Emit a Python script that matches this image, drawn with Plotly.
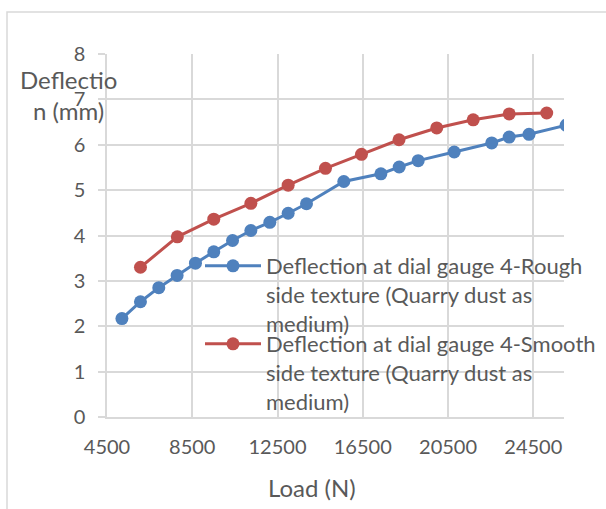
import plotly.graph_objects as go

# Data
rough_load = [5200, 6070, 6930, 7790, 8650, 9510, 10390, 11250, 12140, 13000, 13860,
              15610, 17350, 18210, 19100, 20790, 22550, 23370, 24300, 26040]
rough_defl = [2.17, 2.54, 2.85, 3.12, 3.39, 3.64, 3.89, 4.11, 4.29, 4.49, 4.70,
              5.19, 5.36, 5.51, 5.65, 5.84, 6.04, 6.17, 6.23, 6.43]
smooth_load = [6070, 7800, 9510, 11250, 13000, 14750, 16440, 18200, 19970, 21680, 23370, 25130]
smooth_defl = [3.30, 3.97, 4.36, 4.71, 5.11, 5.48, 5.79, 6.11, 6.37, 6.55, 6.68, 6.70]

x_ticks = [4500, 8500, 12500, 16500, 20500, 24500]
y_ticks = [0, 1, 2, 3, 4, 5, 6, 7, 8]

rough_name = "Deflection at dial gauge 4-Rough<br>side texture (Quarry dust as<br>medium)"
smooth_name = "Deflection at dial gauge 4-Smooth<br>side texture (Quarry dust as<br>medium)"

W, H = 606, 509
L, R, T, B = 107, 564, 54, 417
FONT = "Lato"
GRAY = "#595959"
GRID = "#d9d9d9"


def px(x):
    return (x - L) / (R - L)


def py(y):
    return (B - y) / (B - T)


fig = go.Figure()
fig.add_trace(go.Scatter(x=rough_load, y=rough_defl, mode="lines+markers", name=rough_name,
                         line=dict(color="#4f81bd", width=3),
                         marker=dict(color="#4f81bd", size=13), legend="legend"))
fig.add_trace(go.Scatter(x=smooth_load, y=smooth_defl, mode="lines+markers", name=smooth_name,
                         line=dict(color="#c0504d", width=3),
                         marker=dict(color="#c0504d", size=13), legend="legend2"))

leg_common = dict(xanchor="left", yanchor="top", bgcolor="rgba(0,0,0,0)",
                  font=dict(size=22, color=GRAY), valign="top", itemwidth=56)

fig.update_layout(
    width=W, height=H,
    margin=dict(l=L, r=W - R, t=T, b=H - B, pad=0, autoexpand=False),
    paper_bgcolor="white", plot_bgcolor="white",
    font=dict(family=FONT, size=20, color=GRAY),
    showlegend=True,
    legend=dict(x=px(200), y=py(245), **leg_common),
    legend2=dict(x=px(200), y=py(323), **leg_common),
    xaxis=dict(range=[4500, 25941], tickvals=x_ticks, ticktext=[str(v) for v in x_ticks],
               showgrid=True, gridcolor=GRID, gridwidth=1.5,
               showline=True, linecolor=GRID, linewidth=1.5,
               ticks="", zeroline=False, ticklabelstandoff=11,
               tickfont=dict(size=20, color=GRAY)),
    yaxis=dict(range=[0, 8], tickvals=y_ticks,
               showgrid=True, gridcolor=GRID, gridwidth=1.5,
               showline=True, linecolor=GRID, linewidth=1.5,
               ticks="outside", ticklen=7, tickcolor=GRID, tickwidth=1.5,
               zeroline=False, ticklabelstandoff=9,
               tickfont=dict(size=20, color=GRAY)),
    shapes=[dict(type="rect", xref="paper", yref="paper",
                 x0=px(7), x1=px(640), y0=py(540), y1=py(12),
                 line=dict(color=GRID, width=1.5), fillcolor="rgba(0,0,0,0)", layer="below")],
    annotations=[
        dict(text="Deflectio<br>n (mm)", xref="paper", yref="paper", x=px(68), y=py(95),
             xanchor="center", yanchor="middle", showarrow=False,
             font=dict(size=24, color=GRAY, family=FONT)),
        dict(text="Load (N)", xref="paper", yref="paper", x=px(312), y=py(487),
             xanchor="center", yanchor="middle", showarrow=False,
             font=dict(size=24, color=GRAY, family=FONT)),
    ],
)

fig.write_html("out.html")
